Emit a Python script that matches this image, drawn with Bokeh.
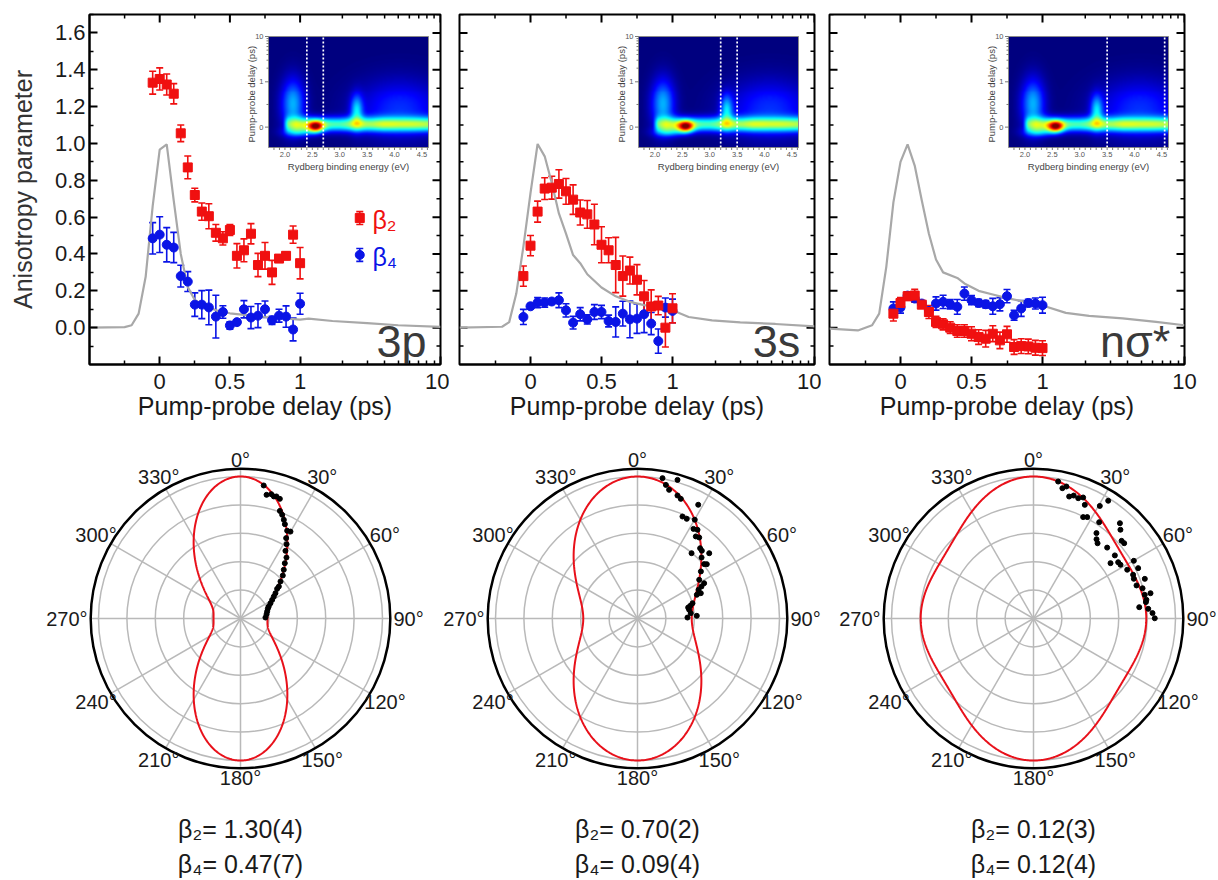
import numpy as np
from bokeh.plotting import figure
from bokeh.layouts import row, column
from bokeh.models import (ColumnDataSource, FixedTicker, Range1d, Whisker, TeeHead,
                          LinearColorMapper, NumeralTickFormatter)
from bokeh.core.properties import value
from bokeh.embed import file_html
from bokeh.resources import INLINE

FONT = "Liberation Sans"

# ------------------------------------------------------------------ data
delay_ps = [-0.05, 0.00, 0.05, 0.10, 0.15, 0.20, 0.25, 0.30, 0.35, 0.40, 0.45,
            0.50, 0.55, 0.60, 0.65, 0.70, 0.75, 0.80, 0.85, 0.90, 0.95, 1.00]

beta2_3p = [1.33, 1.35, 1.32, 1.27, 1.055, 0.87, 0.72, 0.63, 0.605, 0.515, 0.485,
            0.53, 0.39, 0.42, 0.51, 0.34, 0.39, 0.30, 0.375, 0.39, 0.505, 0.35]
beta2_3p_err = [0.062, 0.06, 0.057, 0.055, 0.045, 0.062, 0.037, 0.047, 0.068, 0.045, 0.036,
                0.03, 0.066, 0.062, 0.055, 0.063, 0.072, 0.065, 0.02, 0.02, 0.047, 0.085]
beta4_3p = [0.485, 0.505, 0.45, 0.435, 0.28, 0.25, 0.125, 0.125, 0.11, 0.06, 0.085,
            0.012, 0.03, 0.10, 0.055, 0.065, 0.10, 0.04, 0.065, 0.06, -0.01, 0.13]
beta4_3p_err = [0.085, 0.097, 0.093, 0.082, 0.059, 0.054, 0.064, 0.076, 0.094, 0.116, 0.034,
                0.02, 0.012, 0.047, 0.06, 0.065, 0.045, 0.022, 0.035, 0.058, 0.062, 0.057]

beta2_3s = [0.28, 0.445, 0.63, 0.755, 0.76, 0.78, 0.74, 0.695, 0.625, 0.615, 0.56,
            0.45, 0.42, 0.34, 0.28, 0.31, 0.26, 0.17, 0.115, 0.12, 0.0, 0.105]
beta2_3s_err = [0.055, 0.055, 0.057, 0.059, 0.062, 0.077, 0.07, 0.08, 0.068, 0.075, 0.11,
                0.098, 0.068, 0.15, 0.109, 0.073, 0.082, 0.086, 0.09, 0.05, 0.105, 0.079]
beta4_3s = [0.058, 0.116, 0.136, 0.136, 0.142, 0.149, 0.094, 0.027, 0.073, 0.045, 0.085,
            0.085, 0.036, 0.031, 0.076, 0.045, 0.049, 0.073, 0.022, -0.073, 0.109, 0.091]
beta4_3s_err = [0.041, 0.015, 0.027, 0.025, 0.012, 0.04, 0.036, 0.034, 0.036, 0.025, 0.04,
                0.036, 0.032, 0.082, 0.067, 0.10, 0.08, 0.10, 0.06, 0.066, 0.052, 0.064]

beta2_ns = [0.076, 0.134, 0.171, 0.174, 0.125, 0.085, 0.031, 0.018, 0.0, -0.018, -0.018,
            -0.033, -0.051, -0.06, -0.033, -0.069, -0.036, -0.105, -0.10, -0.102, -0.109, -0.111]
beta2_ns_err = [0.04, 0.03, 0.023, 0.034, 0.015, 0.035, 0.03, 0.03, 0.032, 0.034, 0.034,
                0.038, 0.04, 0.045, 0.043, 0.045, 0.043, 0.04, 0.04, 0.04, 0.04, 0.04]
beta4_ns = [0.104, 0.109, 0.174, 0.158, 0.131, 0.091, 0.131, 0.14, 0.127, 0.113, 0.185,
            0.149, 0.134, 0.127, 0.116, 0.127, 0.171, 0.067, 0.104, 0.134, 0.131, 0.122]
beta4_ns_err = [0.036, 0.03, 0.02, 0.02, 0.015, 0.02, 0.036, 0.036, 0.025, 0.04, 0.036,
                0.025, 0.02, 0.02, 0.043, 0.036, 0.036, 0.027, 0.043, 0.02, 0.03, 0.043]

# normalised photoelectron signal (grey traces)
sig_t_3p = [-0.5, -0.25, -0.2, -0.15, -0.1, -0.05, 0.0, 0.05, 0.1, 0.15, 0.2, 0.25, 0.3,
            0.4, 0.5, 0.75, 1.0, 1.15, 1.7, 3.0, 5.0, 10.0]
sig_3p = [0.0, 0.003, 0.013, 0.076, 0.276, 0.66, 0.966, 0.995, 0.69, 0.40, 0.22, 0.15, 0.127,
          0.094, 0.078, 0.058, 0.044, 0.049, 0.036, 0.025, 0.013, 0.004]
sig_t_3s = [-0.5, -0.2, -0.15, -0.1, -0.05, 0.0, 0.05, 0.1, 0.15, 0.2, 0.25, 0.3, 0.35, 0.4,
            0.5, 0.6, 0.7, 0.8, 0.9, 1.0, 1.3, 1.9, 3.0, 5.3, 10.0]
sig_3s = [0.0, 0.005, 0.03, 0.185, 0.44, 0.73, 0.997, 0.93, 0.785, 0.62, 0.51, 0.394, 0.35,
          0.29, 0.218, 0.17, 0.14, 0.122, 0.113, 0.094, 0.058, 0.04, 0.029, 0.02, 0.007]
sig_t_ns = [-0.5, -0.3, -0.2, -0.15, -0.1, -0.05, 0.0, 0.05, 0.1, 0.15, 0.2, 0.25, 0.3, 0.4,
            0.45, 0.55, 0.65, 0.75, 0.88, 1.0, 1.46, 2.13, 3.67, 6.3, 10.0]
sig_ns = [-0.005, -0.015, 0.013, 0.076, 0.33, 0.68, 0.9, 0.995, 0.88, 0.69, 0.51, 0.37, 0.30,
          0.27, 0.24, 0.20, 0.18, 0.16, 0.14, 0.12, 0.08, 0.064, 0.05, 0.031, 0.013]

state_labels = ["3p", "3s", "nσ*"]

# energy windows (eV) marked in the insets
window_lo = [2.4, 3.2, 3.5]
window_hi = [2.7, 3.5, 4.55]

# inset map: band along zero delay and localized features (eV, ps, amplitude)
band_energy = [1.95, 2.05, 2.2, 2.4, 2.7, 3.0, 3.3, 3.6, 3.8, 4.1, 4.4, 4.62]
band_level = [0.0, 0.34, 0.44, 0.48, 0.45, 0.43, 0.48, 0.46, 0.49, 0.46, 0.47, 0.47]
feat_energy = [2.56, 2.14, 3.31, 4.1, 2.25]
feat_delay = [0.0, 0.5, 0.35, 0.4, -0.12]
feat_amp = [0.62, 0.30, 0.30, 0.17, 0.20]
feat_width_e = [0.10, 0.15, 0.08, 0.55, 0.20]
feat_width_t = [0.09, 0.40, 0.25, 0.45, 0.08]

# polar plots: fitted anisotropy parameters and measured angular points
fit_beta2 = [1.30, 0.70, 0.12]
fit_beta4 = [0.47, 0.09, 0.12]
fit_b2_text = ["1.30(4)", "0.70(2)", "0.12(3)"]
fit_b4_text = ["0.47(7)", "0.09(4)", "0.12(4)"]

ang_3p = [9.9, 11.9, 13.9, 15.3, 16.4, 18.2, 20.1, 21.9, 23.7, 25.2, 28.0, 29.9, 29.6, 31.8,
          33.6, 37.0, 38.7, 41.6, 44.5, 47.2, 50.1, 51.0, 54.1, 56.6, 59.5, 63.0, 67.0, 70.4,
          75.3, 80.6, 87.7]
rad_3p = [0.951, 0.890, 0.902, 0.891, 0.896, 0.887, 0.807, 0.787, 0.759, 0.734, 0.700, 0.706,
          0.651, 0.616, 0.572, 0.538, 0.499, 0.459, 0.425, 0.384, 0.352, 0.332, 0.304, 0.281,
          0.259, 0.237, 0.216, 0.204, 0.194, 0.186, 0.176]
ang_3s = [10.1, 16.1, 12.0, 13.8, 18.0, 19.9, 28.1, 23.8, 26.3, 30.1, 32.0, 34.1, 35.4, 37.3,
          41.7, 43.5, 39.6, 47.7, 46.4, 50.8, 51.9, 53.4, 57.9, 62.1, 63.4, 64.8, 68.2, 68.2,
          74.5, 76.5, 77.8, 84.3, 88.9, 87.4, 80.4]
rad_3s = [1.004, 1.016, 0.962, 0.933, 0.911, 0.896, 0.908, 0.785, 0.783, 0.804, 0.744, 0.754,
          0.709, 0.717, 0.663, 0.658, 0.597, 0.683, 0.623, 0.606, 0.620, 0.556, 0.513, 0.531,
          0.504, 0.475, 0.480, 0.450, 0.402, 0.382, 0.365, 0.377, 0.352, 0.418, 0.369]
ang_ns = [10.2, 14.0, 12.5, 16.3, 18.1, 20.4, 22.3, 24.3, 32.4, 30.5, 26.1, 27.9, 34.3, 42.2,
          44.4, 36.4, 38.5, 40.4, 48.6, 50.3, 46.1, 52.2, 54.3, 56.4, 58.3, 60.1, 62.5, 64.3,
          66.3, 68.4, 70.4, 72.2, 74.5, 77.8, 78.0, 80.6, 81.7, 83.9, 85.2, 87.4, 89.9]
rad_ns = [0.980, 0.958, 0.940, 0.895, 0.911, 0.904, 0.921, 0.878, 0.982, 0.920, 0.795, 0.808,
          0.821, 0.906, 0.875, 0.747, 0.713, 0.696, 0.827, 0.830, 0.720, 0.725, 0.668, 0.716,
          0.720, 0.815, 0.744, 0.818, 0.766, 0.760, 0.832, 0.762, 0.797, 0.843, 0.801, 0.806,
          0.800, 0.749, 0.811, 0.839, 0.854]

angle_ticks = [0, 30, 60, 90, 120, 150, 180, 210, 240, 270, 300, 330]
ring_values = [0.2, 0.4, 0.6, 0.8, 1.0]

x_major = [0.0, 0.5, 1.0, 10.0]
x_major_labels = ["0", "0.5", "1", "10"]
y_major = [0.0, 0.2, 0.4, 0.6, 0.8, 1.0, 1.2, 1.4, 1.6]

# ------------------------------------------------------------------ helpers
def dscale(t):
    """linear up to 1 ps, logarithmic from 1 to 10 ps"""
    t = np.asarray(t, dtype=float)
    return np.where(t <= 1.0, t, 1.0 + np.log10(np.clip(t, 1.0, None)))


def jet(n=256):
    cols = []
    for i in range(n):
        x = i / (n - 1)
        r = min(max(1.5 - abs(4 * x - 3), 0), 1)
        g = min(max(1.5 - abs(4 * x - 2), 0), 1)
        b = min(max(1.5 - abs(4 * x - 1), 0), 1)
        cols.append("#%02x%02x%02x" % (int(r * 255), int(g * 255), int(b * 255)))
    return cols


JET = jet()
TXT = "#1a1a1a"
XR = (-0.5, 2.0)
YR = (-0.2, 1.7)
FH = 350

XMAJ = [float(v) for v in dscale(x_major)]
XMIN = [-0.25, 0.25, 0.75] + [float(dscale(k2)) for k2 in range(2, 10)]
YMIN = [round(v, 2) for v in np.arange(-0.1, 1.71, 0.2)]


def style_axis(ax):
    ax.axis_line_width = 2
    ax.axis_line_color = "black"
    ax.major_tick_in = 8
    ax.major_tick_out = 0
    ax.minor_tick_in = 4
    ax.minor_tick_out = 0
    ax.major_tick_line_width = 2
    ax.minor_tick_line_width = 1.5
    ax.major_tick_line_color = "black"
    ax.minor_tick_line_color = "black"
    ax.major_label_text_font = FONT
    ax.major_label_text_color = TXT
    ax.major_label_text_font_size = "22px"


def mirror_ticks(p, fw, left):
    """inward tick marks on the unlabelled sides of the frame"""
    ux = (XR[1] - XR[0]) / fw
    uy = (YR[1] - YR[0]) / FH
    for ticks, ln, lw in [(XMAJ, 8, 2), (XMIN, 4, 1.5)]:
        p.segment(x0=ticks, y0=YR[1], x1=ticks, y1=YR[1] - ln * uy, line_color="black", line_width=lw)
    for ticks, ln, lw in [(y_major, 8, 2), (YMIN, 4, 1.5)]:
        p.segment(x0=XR[1], y0=ticks, x1=XR[1] - ln * ux, y1=ticks, line_color="black", line_width=lw)
        if left:
            p.segment(x0=XR[0], y0=ticks, x1=XR[0] + ln * ux, y1=ticks, line_color="black",
                      line_width=lw)


E0, E1 = 1.7, 4.62
V0, V1 = -0.45, 2.0


def add_inset(p, fw, lo, hi):
    ins_left, ins_w, ins_top, ins_h = 179, 160, 22, 111
    ppe = ins_w / (E1 - E0)
    ppv = ins_h / (V1 - V0)
    p.extra_x_ranges = {"ix": Range1d(E0 - ins_left / ppe, E0 + (fw - ins_left) / ppe)}
    p.extra_y_ranges = {"iy": Range1d(V0 - (FH - ins_top - ins_h) / ppv, V1 + ins_top / ppv)}
    kw = dict(x_range_name="ix", y_range_name="iy")

    eg = np.linspace(E0, E1, 160)
    vg = np.linspace(V0, V1, 112)
    EE, VV = np.meshgrid(eg, vg)
    img = np.interp(EE, band_energy, band_level) * np.exp(-0.5 * ((VV - 0.05) / 0.11) ** 2)
    for e, t, a, se, st in zip(feat_energy, feat_delay, feat_amp, feat_width_e, feat_width_t):
        img = img + a * np.exp(-0.5 * ((EE - e) / se) ** 2 - 0.5 * ((VV - float(dscale(t))) / st) ** 2)
    img = np.clip(img, 0, 1)
    p.image(image=[img], x=E0, y=V0, dw=E1 - E0, dh=V1 - V0,
            color_mapper=LinearColorMapper(palette=JET, low=0, high=1), **kw)
    p.quad(left=[E0], right=[E1], bottom=[V0], top=[V1], fill_color=None,
           line_color="#8a8a8a", line_width=1, **kw)
    # dotted white windows
    p.segment(x0=[lo, hi], y0=[V0, V0], x1=[lo, hi], y1=[V1, V1], line_color="white",
              line_width=1.7, line_dash="2 2", **kw)
    dv = 1.0 / ppv
    de = 1.0 / ppe
    xt_minor = [round(v, 2) for v in np.arange(1.8, 4.61, 0.1)]
    p.segment(x0=xt_minor, y0=V0, x1=xt_minor, y1=V0 - 2.5 * dv, line_color="#555555",
              line_width=0.8, **kw)
    xlab = [2.0, 2.5, 3.0, 3.5, 4.0, 4.5]
    p.text(x=xlab, y=[V0 - 4 * dv] * len(xlab), text=["%.1f" % v for v in xlab],
           text_align="center", text_baseline="top", text_font=value(FONT),
           text_font_size="7.5px", text_color="#555555", **kw)
    p.text(x=[(E0 + E1) / 2], y=[V0 - 13 * dv], text=["Rydberg binding energy (eV)"],
           text_align="center", text_baseline="top", text_font=value(FONT),
           text_font_size="9.5px", text_color="#444444", **kw)
    yt = [0.0, 1.0, 2.0] + [float(dscale(k)) for k in range(2, 10)] + [0.5]
    ylen = [3.5, 3.5, 3.5] + [2.0] * 9
    p.segment(x0=[E0] * len(yt), y0=yt, x1=[E0 - l * de for l in ylen], y1=yt,
              line_color="#555555", line_width=0.8, **kw)
    p.text(x=[E0 - 5 * de] * 3, y=[2.0, 1.0, 0.0], text=["10", "1", "0"], text_align="right",
           text_baseline="middle", text_font=value(FONT), text_font_size="7.5px",
           text_color="#555555", **kw)
    p.text(x=[E0 - 17 * de], y=[(V0 + V1) / 2 - 0.05], text=["Pump-probe delay (ps)"],
           angle=np.pi / 2, text_align="center", text_baseline="middle", text_font=value(FONT),
           text_font_size="9.5px", text_color="#444444", **kw)


def top_panel(k, fw, bl, br, b2, b2e, b4, b4e, st, sv, first):
    p = figure(frame_width=fw, frame_height=FH, x_range=Range1d(*XR), y_range=Range1d(*YR),
               output_backend="svg", toolbar_location=None,
               min_border_left=bl, min_border_right=br, min_border_top=14, min_border_bottom=0,
               background_fill_color="white", border_fill_color="white")
    p.grid.visible = False
    p.outline_line_color = "black"
    p.outline_line_width = 2

    xa = p.xaxis[0]
    xa.ticker = FixedTicker(ticks=XMAJ, minor_ticks=XMIN)
    xa.major_label_overrides = {xm: lab for xm, lab in zip(XMAJ, x_major_labels)}
    style_axis(xa)
    xa.major_label_standoff = 9
    xa.axis_label = "Pump-probe delay (ps)"
    xa.axis_label_text_font = FONT
    xa.axis_label_text_font_size = "25px"
    xa.axis_label_text_font_style = "normal"
    xa.axis_label_text_color = TXT
    xa.axis_label_standoff = 0

    ya = p.yaxis[0]
    if first:
        ya.ticker = FixedTicker(ticks=y_major, minor_ticks=YMIN)
        ya.formatter = NumeralTickFormatter(format="0.0")
        style_axis(ya)
        ya.major_label_standoff = 4
        ya.axis_label = "Anisotropy parameter"
        ya.axis_label_text_font = FONT
        ya.axis_label_text_font_size = "25px"
        ya.axis_label_text_font_style = "normal"
        ya.axis_label_text_color = "#333333"
        ya.axis_label_standoff = 15
    else:
        ya.visible = False

    mirror_ticks(p, fw, not first)
    add_inset(p, fw, window_lo[k], window_hi[k])

    p.line(x=dscale(st), y=sv, line_color="#a8a8a8", line_width=2.2)

    x = dscale(delay_ps)
    for vals, errs, col, mk in [(b4, b4e, "#0a14e6", "circle"), (b2, b2e, "#f01010", "square")]:
        vals = np.asarray(vals)
        errs = np.asarray(errs)
        src = ColumnDataSource(dict(x=x, y=vals, lo=vals - errs, hi=vals + errs))
        p.add_layout(Whisker(base="x", lower="lo", upper="hi", source=src, line_color=col,
                             line_width=1.6,
                             upper_head=TeeHead(size=7, line_color=col, line_width=1.6),
                             lower_head=TeeHead(size=7, line_color=col, line_width=1.6)))
        p.scatter("x", "y", source=src, marker=mk, size=9, fill_color=col, line_color=col)

    p.text(x=[1.9], y=[-0.075], text=[state_labels[k]], text_align="right",
           text_baseline="alphabetic", text_font=value(FONT), text_font_size="45px",
           text_color="#3a3a3a")

    if first:
        lx = [1.425, 1.425]
        ly = [0.595, 0.395]
        le = [0.035, 0.035]
        cols = ["#f01010", "#0a14e6"]
        mks = ["square", "circle"]
        labels = ["β₂", "β₄"]
        for i in range(2):
            s = ColumnDataSource(dict(x=[lx[i]], y=[ly[i]], lo=[ly[i] - le[i]], hi=[ly[i] + le[i]]))
            p.add_layout(Whisker(base="x", lower="lo", upper="hi", source=s, line_color=cols[i],
                                 line_width=1.6,
                                 upper_head=TeeHead(size=7, line_color=cols[i], line_width=1.6),
                                 lower_head=TeeHead(size=7, line_color=cols[i], line_width=1.6)))
            p.scatter("x", "y", source=s, marker=mks[i], size=9, fill_color=cols[i],
                      line_color=cols[i])
            p.text(x=[lx[i] + 0.09], y=[ly[i] - 0.012], text=[labels[i]], text_align="left",
                   text_baseline="middle", text_font=value(FONT), text_font_size="25px",
                   text_color=cols[i])
    return p


SCALE = 142.0  # px per unit radius


def polar_panel(k, width, height, cx, cy, ang, rad):
    p = figure(width=width, height=height,
               x_range=Range1d(-cx / SCALE, (width - cx) / SCALE),
               y_range=Range1d(-(height - cy) / SCALE, cy / SCALE),
               x_axis_type=None, y_axis_type=None, min_border=0, outline_line_color=None,
               output_backend="svg", toolbar_location=None,
               background_fill_color="white", border_fill_color="white")
    n = len(ring_values)
    p.circle(x=[0] * n, y=[0] * n, radius=ring_values, fill_color=None,
             line_color="#b9b9b9", line_width=1.5)
    th = np.radians(angle_ticks)
    p.segment(x0=0, y0=0, x1=1.05 * np.sin(th), y1=1.05 * np.cos(th),
              line_color="#b9b9b9", line_width=1.5)
    p.circle(x=[0], y=[0], radius=[1.055], fill_color=None, line_color="black", line_width=2.5)

    tt = np.radians(np.linspace(0, 360, 721))
    c = np.cos(tt)
    P2 = 0.5 * (3 * c ** 2 - 1)
    P4 = (35 * c ** 4 - 30 * c ** 2 + 3) / 8.0
    f = 1 + fit_beta2[k] * P2 + fit_beta4[k] * P4
    f = f / f.max()
    p.line(x=f * np.sin(tt), y=f * np.cos(tt), line_color="#e8101a", line_width=2)

    a = np.radians(ang)
    r = np.asarray(rad)
    p.scatter(x=r * np.sin(a), y=r * np.cos(a), size=5, marker="circle", fill_color="black",
              line_color="black")

    # angle labels: side labels (90°, 270°) anchored at the rim, others centred
    side = [d for d in angle_ticks if d in (90, 270)]
    rest = [d for d in angle_ticks if d not in (90, 270)]
    tr = np.radians(rest)
    rl = (159 + 9 * np.abs(np.sin(tr))) / SCALE
    p.text(x=rl * np.sin(tr), y=rl * np.cos(tr), text=["%d°" % d for d in rest],
           text_align="center", text_baseline="middle", text_font=value(FONT),
           text_font_size="20px", text_color=TXT)
    for d in side:
        ts = np.radians(d)
        p.text(x=[153 / SCALE * np.sin(ts)], y=[0], text=["%d°" % d],
               text_align="left" if d == 90 else "right", text_baseline="middle",
               text_font=value(FONT), text_font_size="20px", text_color=TXT)

    p.text(x=[0, 0], y=[-210 / SCALE, -245 / SCALE],
           text=["β₂= " + fit_b2_text[k], "β₄= " + fit_b4_text[k]],
           text_align="center", text_baseline="middle", text_font=value(FONT),
           text_font_size="25px", text_color=TXT)
    return p


p1 = top_panel(0, 351, 89, 9, beta2_3p, beta2_3p_err, beta4_3p, beta4_3p_err, sig_t_3p, sig_3p, True)
p2 = top_panel(1, 355, 10, 7, beta2_3s, beta2_3s_err, beta4_3s, beta4_3s_err, sig_t_3s, sig_3s, False)
p3 = top_panel(2, 355, 8, 18, beta2_ns, beta2_ns_err, beta4_ns, beta4_ns_err, sig_t_ns, sig_ns, False)

PH = 457
CY = 196
q1 = polar_panel(0, 438, PH, 240, CY, ang_3p, rad_3p)
q2 = polar_panel(1, 398, PH, 199, CY, ang_3s, rad_3s)
q3 = polar_panel(2, 380, PH, 197, CY, ang_ns, rad_ns)

layout = column(row(p1, p2, p3), row(q1, q2, q3))
open("out.html", "w").write(file_html(layout, INLINE))
